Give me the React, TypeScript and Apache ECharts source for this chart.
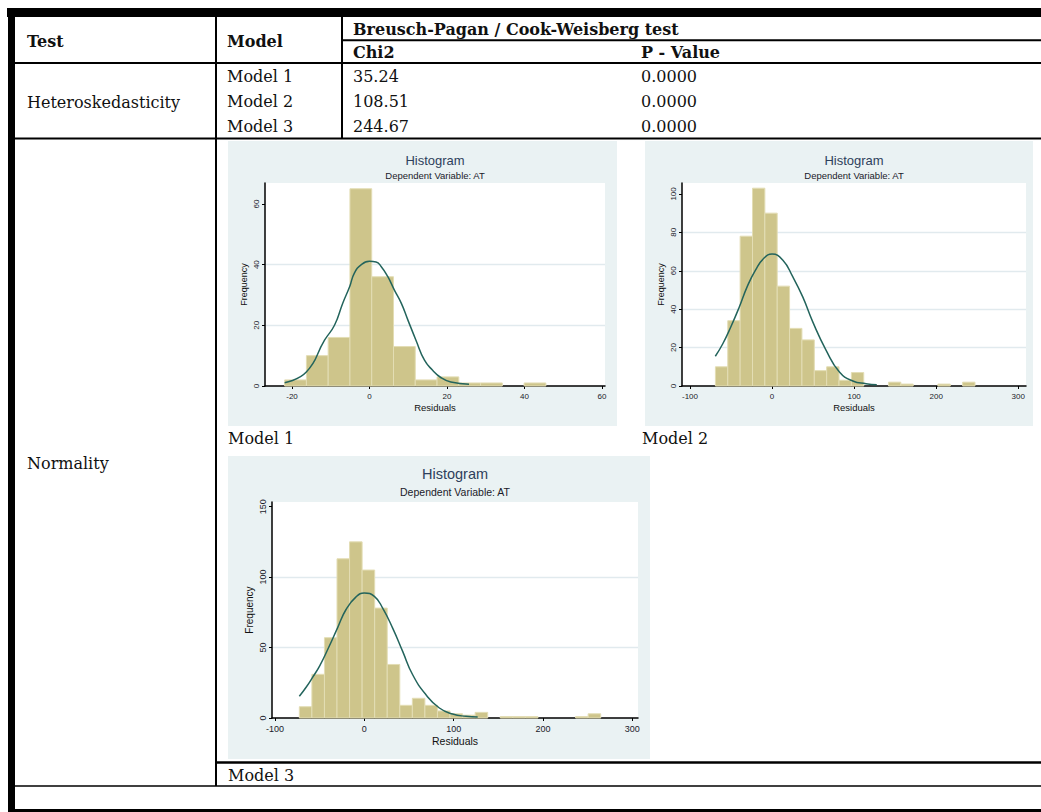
import React, { useEffect, useRef } from "react";
import * as echarts from "echarts";

// ---- Table data ----
const hetModels = ["Model 1", "Model 2", "Model 3"];
const chi2Values = ["35.24", "108.51", "244.67"];
const pValues = ["0.0000", "0.0000", "0.0000"];
const chartCaptions = ["Model 1", "Model 2", "Model 3"];

// ---- Histogram data ----
const m1BinStart = -21.9;
const m1BinWidth = 5.62;
const m1Counts = [2, 10, 16, 65, 36, 13, 2, 3, 1, 1, 0, 1];
const m1CurveX = [-21.9, -16.3, -11.6, -9.0, -6.9, -5.1, -3.9, -2.1, 0, 1.7, 3.0, 4.7, 6.4, 8.2, 9.9, 12.0, 14.2, 16.3, 18.4, 21.0, 25.7];
const m1CurveY = [1.1, 4.6, 15.1, 20.1, 27.3, 32.8, 37.2, 40.0, 41.1, 40.9, 39.4, 36.1, 31.7, 27.3, 21.8, 15.1, 8.5, 5.2, 2.8, 1.3, 0.6];
const m1XTicks = [-20, 0, 20, 40, 60];
const m1YTicks = [0, 20, 40, 60];

const m2BinStart = -69.0;
const m2BinWidth = 15.06;
const m2Counts = [10, 34, 78, 103, 90, 52, 30, 24, 8, 10, 3, 7, 0, 0, 2, 1, 0, 0, 1, 0, 2];
const m2CurveX = [-69.1, -60, -50, -40, -30, -20, -10, 0, 13, 25.2, 37.4, 49.6, 65.9, 82.1, 98.4, 114.6, 127.6];
const m2CurveY = [15.5, 22, 31, 41, 52, 60.5, 66.5, 68.7, 65.6, 56.9, 46.4, 33.4, 18.6, 7.3, 2.6, 1.2, 0.6];
const m2XTicks = [-100, 0, 100, 200, 300];
const m2YTicks = [0, 20, 40, 60, 80, 100];

const m3BinStart = -72.8;
const m3BinWidth = 14.06;
const m3Counts = [8, 31, 57, 113, 125, 105, 78, 38, 9, 14, 9, 5, 3, 2, 4, 0, 1, 1, 1, 0, 0, 0, 1, 3];
const m3CurveX = [-72.8, -65, -57.8, -50, -40, -30, -20.5, -9.3, 0, 11.2, 20.5, 31.7, 42.9, 54.1, 69, 84, 98.9, 113.8, 126.9];
const m3CurveY = [15.4, 22, 29, 37, 50, 64, 77, 86, 88.7, 86.3, 78, 63.8, 47.3, 30.7, 16.5, 7.1, 2.8, 1.2, 0.7];
const m3XTicks = [-100, 0, 100, 200, 300];
const m3YTicks = [0, 50, 100, 150];

const SERIF = "'DejaVu Serif', 'Liberation Serif', serif";
const SANS = "'Liberation Sans', Arial, sans-serif";
const BAR_FILL = "#cec58b";
const BAR_EDGE = "#e3ddb4";
const CURVE = "#23645c";
const GRAPH_BG = "#eaf2f3";
const GRIDLINE = "#e1eaee";

type ChartSpec = {
  binStart: number;
  binWidth: number;
  counts: number[];
  curveX: number[];
  curveY: number[];
  xTicks: number[];
  yTicks: number[];
  yInterval: number;
  grid: { left: number; top: number; width: number; height: number };
  xMin: number;
  xMax: number;
  yMax: number;
  bg: { x: number; y: number; w: number; h: number };
  titleY: number;
  subY: number;
  titleSize: number;
  subSize: number;
  tickSize: number;
  nameSize: number;
  xNameGap: number;
  yNameGap: number;
};

const specs: ChartSpec[] = [
  {
    binStart: m1BinStart, binWidth: m1BinWidth, counts: m1Counts, curveX: m1CurveX, curveY: m1CurveY,
    xTicks: m1XTicks, yTicks: m1YTicks, yInterval: 20,
    grid: { left: 265, top: 183, width: 340, height: 203 },
    xMin: -26.97, xMax: 60.8, yMax: 66.9,
    bg: { x: 228, y: 141, w: 389, h: 285 },
    titleY: 160, subY: 175, titleSize: 13, subSize: 9.5, tickSize: 8, nameSize: 9.5, xNameGap: 16, yNameGap: 17,
  },
  {
    binStart: m2BinStart, binWidth: m2BinWidth, counts: m2Counts, curveX: m2CurveX, curveY: m2CurveY,
    xTicks: m2XTicks, yTicks: m2YTicks, yInterval: 20,
    grid: { left: 682, top: 183, width: 344, height: 203 },
    xMin: -109.7, xMax: 309.4, yMax: 105.7,
    bg: { x: 645, y: 141, w: 388, h: 285 },
    titleY: 160, subY: 175, titleSize: 13, subSize: 9.5, tickSize: 8, nameSize: 9.5, xNameGap: 16, yNameGap: 17,
  },
  {
    binStart: m3BinStart, binWidth: m3BinWidth, counts: m3Counts, curveX: m3CurveX, curveY: m3CurveY,
    xTicks: m3XTicks, yTicks: m3YTicks, yInterval: 50,
    grid: { left: 272, top: 502, width: 366, height: 216 },
    xMin: -103.4, xMax: 306.4, yMax: 153.3,
    bg: { x: 228, y: 456, w: 422, h: 303 },
    titleY: 474, subY: 492, titleSize: 14.5, subSize: 10.5, tickSize: 9, nameSize: 10.5, xNameGap: 17, yNameGap: 18,
  },
];

function buildOption() {
  const grids: any[] = [];
  const xAxes: any[] = [];
  const yAxes: any[] = [];
  const series: any[] = [];
  const graphics: any[] = [];

  specs.forEach((s, i) => {
    grids.push({
      left: s.grid.left, top: s.grid.top, width: s.grid.width, height: s.grid.height,
      show: true, backgroundColor: "#ffffff", borderWidth: 0, containLabel: false,
    });
    xAxes.push({
      type: "value", gridIndex: i, min: s.xMin, max: s.xMax,
      axisLine: { show: true, onZero: false, lineStyle: { color: "#000", width: 1.5 } },
      axisTick: { show: true, length: 3, customValues: s.xTicks, lineStyle: { color: "#000", width: 1 } },
      axisLabel: { customValues: s.xTicks, fontSize: s.tickSize, margin: 6, color: "#1a1a2a", fontFamily: SANS },
      splitLine: { show: false },
      name: "Residuals", nameLocation: "middle", nameGap: s.xNameGap,
      nameTextStyle: { fontSize: s.nameSize, color: "#111", fontFamily: SANS },
    });
    yAxes.push({
      type: "value", gridIndex: i, min: 0, max: s.yMax, interval: s.yInterval,
      axisLine: { show: true, onZero: false, lineStyle: { color: "#000", width: 1.5 } },
      axisTick: { show: true, length: 3, customValues: s.yTicks, lineStyle: { color: "#000", width: 1 } },
      axisLabel: { customValues: s.yTicks, rotate: 90, fontSize: s.tickSize, margin: 5, color: "#1a1a2a", fontFamily: SANS },
      splitLine: { show: true, showMinLine: false, showMaxLine: false, lineStyle: { color: GRIDLINE, width: 1.3 } },
      name: "Frequency", nameLocation: "middle", nameGap: s.yNameGap,
      nameTextStyle: { fontSize: s.nameSize - 0.5, color: "#111", fontFamily: SANS },
    });
    const binData = s.counts.map((c, k) => [s.binStart + k * s.binWidth, s.binStart + (k + 1) * s.binWidth, c]);
    series.push({
      type: "custom", xAxisIndex: i, yAxisIndex: i, data: binData, encode: { x: [0, 1], y: 2 },
      renderItem: (_params: any, api: any) => {
        const h = api.value(2);
        if (!h) return null;
        const p0 = api.coord([api.value(0), h]);
        const p1 = api.coord([api.value(1), 0]);
        return {
          type: "rect",
          shape: { x: p0[0], y: p0[1], width: p1[0] - p0[0], height: p1[1] - p0[1] },
          style: { fill: BAR_FILL, stroke: BAR_EDGE, lineWidth: 1 },
        };
      },
      z: 2,
    });
    series.push({
      type: "line", xAxisIndex: i, yAxisIndex: i,
      data: s.curveX.map((x, k) => [x, s.curveY[k]]),
      smooth: true, showSymbol: false, symbol: "none",
      lineStyle: { color: CURVE, width: 1.5 }, z: 3,
    });
    graphics.push({ type: "rect", z: -10, shape: { x: s.bg.x, y: s.bg.y, width: s.bg.w, height: s.bg.h }, style: { fill: GRAPH_BG } });
    const cx = s.grid.left + s.grid.width / 2;
    graphics.push({ type: "text", z: 10, x: cx, y: s.titleY, style: { text: "Histogram", fontSize: s.titleSize, fontFamily: SANS, fill: "#2e3f5c", align: "center", verticalAlign: "middle" } });
    graphics.push({ type: "text", z: 10, x: cx, y: s.subY, style: { text: "Dependent Variable: AT", fontSize: s.subSize, fontFamily: SANS, fill: "#1a1a2a", align: "center", verticalAlign: "middle" } });
  });

  // ---- Table lines ----
  const black = "#000";
  graphics.push({ type: "rect", z: 5, shape: { x: 7, y: 8, width: 1034, height: 9 }, style: { fill: black } });
  graphics.push({ type: "rect", z: 5, shape: { x: 8, y: 8, width: 7, height: 804 }, style: { fill: black } });
  graphics.push({ type: "rect", z: 5, shape: { x: 8, y: 809, width: 1033, height: 3 }, style: { fill: black } });
  const hline = (x1: number, x2: number, y: number, w: number) =>
    graphics.push({ type: "line", z: 5, shape: { x1, y1: y, x2, y2: y }, style: { stroke: black, lineWidth: w } });
  const vline = (x: number, y1: number, y2: number, w: number) =>
    graphics.push({ type: "line", z: 5, shape: { x1: x, y1, x2: x, y2 }, style: { stroke: black, lineWidth: w } });
  vline(216, 17, 786, 2);
  vline(342, 17, 138, 2);
  hline(342, 1041, 40.3, 2);
  hline(15, 1041, 63, 2);
  hline(15, 1041, 138.5, 2);
  hline(216, 1041, 762.5, 2.5);
  hline(15, 1041, 786, 1.5);

  // ---- Table text ----
  const txt = (text: string, x: number, y: number, bold = false) =>
    graphics.push({
      type: "text", z: 10, x, y,
      style: { text, fontSize: 16, fontFamily: SERIF, fontWeight: bold ? "bold" : "normal", fill: "#111", align: "left", verticalAlign: "middle" },
    });
  txt("Test", 27, 41, true);
  txt("Model", 227, 41, true);
  txt("Breusch-Pagan / Cook-Weisberg test", 353, 29, true);
  txt("Chi2", 353, 52, true);
  txt("P - Value", 641, 52, true);
  txt("Heteroskedasticity", 27, 102);
  const rowY = [76, 101, 126];
  hetModels.forEach((m, k) => {
    txt(m, 227, rowY[k]);
    txt(chi2Values[k], 353, rowY[k]);
    txt(pValues[k], 641, rowY[k]);
  });
  txt("Normality", 27, 463);
  txt(chartCaptions[0], 228, 438);
  txt(chartCaptions[1], 642, 438);
  txt(chartCaptions[2], 228, 775);

  return {
    animation: false,
    backgroundColor: "#ffffff",
    grid: grids,
    xAxis: xAxes,
    yAxis: yAxes,
    series,
    graphic: { elements: graphics },
  };
}

export default function App() {
  const ref = useRef<HTMLDivElement>(null);
  useEffect(() => {
    if (!ref.current) return;
    const chart = echarts.init(ref.current, undefined, { renderer: "svg" });
    chart.setOption(buildOption() as any);
    return () => chart.dispose();
  }, []);
  return (
    <div
      ref={ref}
      style={{ position: "absolute", left: 0, top: 0, width: 1041, height: 812, background: "#fff" }}
    />
  );
}
